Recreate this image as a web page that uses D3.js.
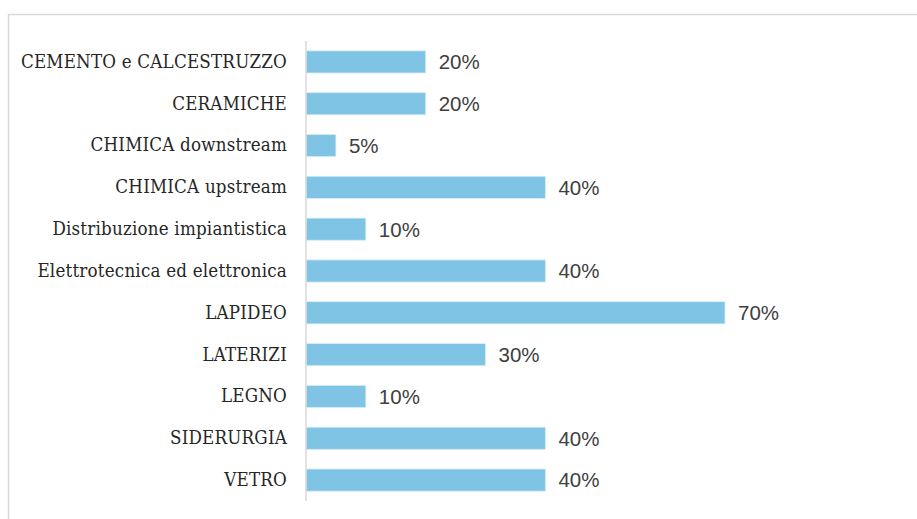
<!DOCTYPE html>
<html>
<head>
<meta charset="utf-8">
<script src="https://cdn.jsdelivr.net/npm/d3@7"></script>
<style>
  body { margin: 0; background: #fff; }
  svg { display: block; }
</style>
</head>
<body>
<svg id="chart" width="917" height="519"></svg>
<script>
// settori e percentuali
var categories = ["CEMENTO e CALCESTRUZZO", "CERAMICHE", "CHIMICA downstream", "CHIMICA upstream",
    "Distribuzione impiantistica", "Elettrotecnica ed elettronica", "LAPIDEO", "LATERIZI",
    "LEGNO", "SIDERURGIA", "VETRO"];
var values = [20, 20, 5, 40, 10, 40, 70, 30, 10, 40, 40];

var svg = d3.select("#chart");

// cornice del grafico
svg.append("rect")
    .attr("x", 8.5)
    .attr("y", 14.5)
    .attr("width", 920)
    .attr("height", 520)
    .attr("fill", "#fff")
    .attr("stroke", "#d9d9d9")
    .attr("stroke-width", 1.5);

var x = d3.scaleLinear().domain([0, 70]).range([306, 725]);
var y = d3.scaleBand().domain(categories).range([41, 501]).paddingInner(0.47).paddingOuter(0.235);

var g = svg.append("g");

g.selectAll("rect.bar")
    .data(categories)
    .enter()
    .append("rect")
    .classed("bar", true)
    .attr("x", x(0))
    .attr("y", function(d){ return y(d); })
    .attr("width", function(d, i){ return x(values[i]) - x(0); })
    .attr("height", y.bandwidth())
    .attr("fill", "#7fc4e4")
    .attr("stroke", "#d8eef8")
    .attr("stroke-width", 0.8);

// asse verticale
var axis = g.append("g")
    .attr("transform", "translate(" + x(0) + ",0)")
    .call(d3.axisLeft(y).tickSize(0).tickPadding(19));
axis.select(".domain")
    .attr("stroke", "#d9d9d9")
    .attr("stroke-width", 1.5)
    .attr("d", "M0,41V501");
axis.selectAll("text")
    .style("font-family", "'DejaVu Serif Condensed', 'DejaVu Serif', serif")
    .style("font-size", "18.6px")
    .style("letter-spacing", "0.2px")
    .attr("fill", "#262626");

// etichette dei valori
g.selectAll("text.val")
    .data(categories)
    .enter()
    .append("text")
    .classed("val", true)
    .attr("x", function(d, i){ return x(values[i]) + 13; })
    .attr("y", function(d){ return y(d) + y.bandwidth() / 2; })
    .attr("dy", "0.36em")
    .style("font-family", "'Liberation Sans', sans-serif")
    .style("font-size", "20.5px")
    .attr("fill", "#404040")
    .text(function(d, i){ return values[i] + "%"; });
</script>
</body>
</html>
